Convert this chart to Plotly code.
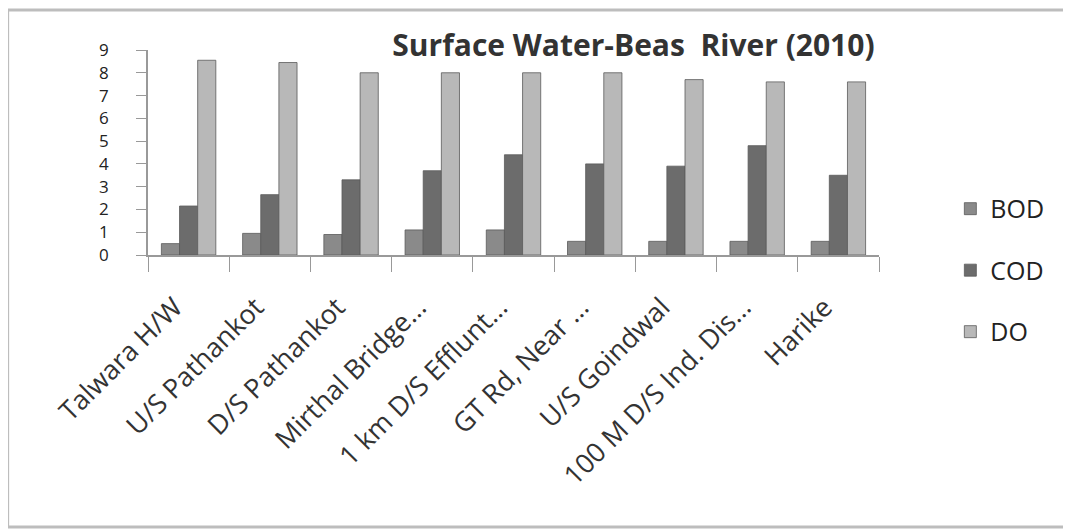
import plotly.graph_objects as go

stations = [
    "Talwara H/W",
    "U/S Pathankot",
    "D/S Pathankot",
    "Mirthal Bridge…",
    "1 km D/S Efflunt…",
    "GT Rd, Near …",
    "U/S Goindwal",
    "100 M D/S Ind. Dis…",
    "Harike",
]
bod = [0.5, 0.95, 0.9, 1.1, 1.1, 0.6, 0.6, 0.6, 0.6]
cod = [2.15, 2.65, 3.3, 3.7, 4.4, 4.0, 3.9, 4.8, 3.5]
do = [8.55, 8.45, 8.0, 8.0, 8.0, 8.0, 7.7, 7.6, 7.6]

series = [("BOD", bod, "#8a8a8a"), ("COD", cod, "#6c6c6c"), ("DO", do, "#b8b8b8")]

fig = go.Figure()
for name, vals, col in series:
    fig.add_trace(go.Bar(
        x=stations, y=vals, name=name, legendgroup=name,
        marker=dict(color=col, line=dict(color="#5a5a5a", width=0.8)),
    ))

fig.update_layout(
    width=1071, height=529,
    paper_bgcolor="white", plot_bgcolor="white",
    margin=dict(l=140, r=200, t=42, b=282),
    barmode="group", bargap=0.33, bargroupgap=0,
    font=dict(family="Open Sans, Liberation Sans, sans-serif", color="#222"),
    title=dict(
        text="<b>Surface Water-Beas  River (2010)</b>",
        x=0.584, xanchor="center", y=0.93, yanchor="middle",
        font=dict(size=30, color="#333"),
    ),
    legend=dict(
        x=1.0976, y=0.337, xanchor="left", yanchor="top",
        font=dict(size=25, color="#222"),
        tracegroupgap=26,
    ),
    showlegend=True,
)
fig.update_xaxes(
    tickangle=-45, tickfont=dict(size=27, color="#333"),
    showline=True, linecolor="#999", linewidth=1.5,
    ticks="outside", tickson="boundaries", ticklen=15, tickcolor="#999",
    ticklabelstandoff=24, ticklabelshift=-14,
    showgrid=False,
)
fig.update_yaxes(
    range=[0, 9], dtick=1, tickfont=dict(size=17, color="#222"),
    showline=True, linecolor="#999", linewidth=1.5,
    ticks="outside", ticklen=10, tickcolor="#999",
    ticklabelstandoff=24,
    showgrid=False, zeroline=False,
)
fig.add_shape(type="rect", xref="paper", yref="paper",
              x0=-0.192, x1=1.267, y0=-1.327, y1=1.195,
              line=dict(color="#bdbdbd", width=3))

fig.write_html("out.html")
